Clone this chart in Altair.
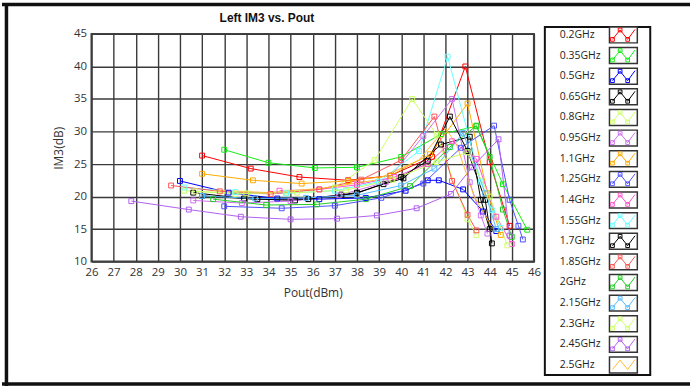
import altair as alt
import pandas as pd

# ---------------- data ----------------
series = ["0.2GHz", "0.35GHz", "0.5GHz", "0.65GHz", "0.8GHz", "0.95GHz", "1.1GHz",
          "1.25GHz", "1.4GHz", "1.55GHz", "1.7GHz", "1.85GHz", "2GHz", "2.15GHz",
          "2.3GHz", "2.45GHz", "2.5GHz"]
colors = ["#FF0000", "#11EE11", "#0000FF", "#000000", "#CCFF66", "#D070F0", "#FFAA00",
          "#5050FF", "#FF55CC", "#66FFFF", "#000000", "#FF5555", "#22CC22", "#55BBFF",
          "#CCFF66", "#B060F0", "#FFB833"]

pout_02 = [31.0, 33.2, 35.4, 37.6, 39.5, 41.4, 42.9, 44.0, 44.9]
im3_02 = [26.3, 24.3, 23.0, 22.5, 23.2, 26.1, 40.0, 25.3, 15.5]
pout_035 = [32.0, 34.0, 36.1, 38.0, 40.0, 41.8, 43.4, 44.6, 45.7]
im3_035 = [27.2, 25.2, 24.4, 24.5, 26.1, 29.6, 30.8, 21.9, 14.9]
pout_05 = [30.0, 32.2, 34.4, 36.3, 38.4, 40.2, 41.2, 41.7, 42.8, 43.7, 44.3]
im3_05 = [22.4, 20.6, 19.7, 19.6, 19.8, 20.9, 22.5, 22.5, 21.1, 17.7, 14.7]
pout_065 = [30.6, 32.9, 35.2, 37.3, 38.0, 39.2, 40.1, 41.8, 43.1, 43.6, 44.0]
im3_065 = [20.6, 19.7, 19.4, 20.3, 20.6, 21.9, 22.8, 28.0, 29.2, 19.5, 15.0]
pout_08 = [30.2, 32.5, 34.8, 37.0, 38.8, 40.5, 41.6, 43.0, 43.4]
im3_08 = [20.9, 20.4, 20.6, 21.4, 25.6, 35.0, 29.5, 16.5, 14.1]
pout_095 = [30.6, 32.8, 35.0, 37.2, 39.3, 41.0, 42.3, 43.1, 43.6, 43.9]
im3_095 = [19.4, 19.0, 19.3, 20.2, 22.2, 29.3, 35.0, 22.2, 17.1, 14.3]
pout_11 = [31.0, 33.3, 35.5, 37.6, 39.5, 41.3, 43.0, 43.9, 44.5]
im3_11 = [23.5, 22.5, 22.0, 22.4, 23.2, 26.5, 34.3, 20.5, 14.1]
pout_125 = [32.0, 34.6, 37.0, 39.1, 41.0, 42.7, 44.2, 44.9, 45.3, 45.5]
im3_125 = [18.5, 18.2, 18.6, 19.8, 22.0, 27.5, 30.9, 19.5, 15.5, 13.4]
pout_14 = [34.5, 36.3, 38.0, 39.7, 41.2, 42.3, 43.4, 44.3, 45.0]
im3_14 = [20.9, 21.1, 21.8, 23.0, 25.0, 28.5, 25.8, 16.9, 12.7]
pout_155 = [30.2, 32.5, 34.8, 37.0, 39.0, 40.8, 42.1, 43.6, 44.1, 44.5]
im3_155 = [21.4, 20.7, 20.5, 20.9, 22.3, 27.0, 41.5, 22.3, 17.9, 15.2]
pout_17 = [31.0, 33.5, 35.8, 38.0, 40.0, 41.2, 42.2, 43.0, 43.8, 44.1]
im3_17 = [20.1, 19.6, 19.6, 20.5, 23.0, 25.5, 32.3, 27.0, 19.5, 12.8]
pout_185 = [29.6, 31.8, 34.1, 36.3, 38.2, 40.0, 41.5, 42.3, 43.0, 43.4]
im3_185 = [21.7, 20.8, 20.4, 21.1, 22.6, 25.6, 32.3, 22.4, 17.2, 14.8]
pout_20 = [31.5, 33.9, 36.2, 38.4, 40.4, 42.2, 43.4, 44.0, 44.6, 45.0]
im3_20 = [19.6, 18.7, 18.8, 19.6, 21.6, 27.6, 30.9, 26.1, 18.0, 13.8]
pout_215 = [31.0, 33.4, 35.7, 38.0, 40.0, 41.5, 42.8, 43.8, 44.3]
im3_215 = [20.1, 19.7, 19.8, 20.2, 21.7, 24.3, 29.8, 20.5, 15.0]
pout_23 = [30.7, 33.0, 35.3, 37.5, 39.6, 41.6, 43.0, 44.0, 44.8]
im3_23 = [20.8, 20.5, 20.6, 21.0, 22.6, 25.3, 26.8, 20.0, 12.5]
pout_245 = [27.8, 30.4, 32.75, 35.0, 37.1, 38.9, 40.7, 42.25, 43.2, 44.4, 44.9]
im3_245 = [19.3, 18.0, 16.9, 16.5, 16.6, 17.1, 18.2, 20.4, 24.5, 28.8, 14.0]
pout_25 = [31.5, 34.0, 36.5, 38.8, 40.8, 42.0, 42.5, 43.3, 44.2]
im3_25 = [21.0, 20.6, 21.3, 22.5, 25.6, 30.5, 28.0, 20.0, 14.8]

x_ticks = list(range(26, 47))
y_ticks = [10, 15, 20, 25, 30, 35, 40, 45]

pouts = [pout_02, pout_035, pout_05, pout_065, pout_08, pout_095, pout_11, pout_125,
         pout_14, pout_155, pout_17, pout_185, pout_20, pout_215, pout_23, pout_245, pout_25]
im3s = [im3_02, im3_035, im3_05, im3_065, im3_08, im3_095, im3_11, im3_125,
        im3_14, im3_155, im3_17, im3_185, im3_20, im3_215, im3_23, im3_245, im3_25]

rows = []
for s, xs, ys in zip(series, pouts, im3s):
    for xv, yv in zip(xs, ys):
        rows.append({"series": s, "pout": xv, "im3": yv, "marker": s != "2.5GHz"})
df = pd.DataFrame(rows)

FONT = "Open Sans"
color_scale = alt.Scale(domain=series, range=colors)
xscale = alt.Scale(domain=[26, 46], nice=False, zero=False)
yscale = alt.Scale(domain=[10, 45], nice=False, zero=False)

xaxis = alt.Axis(values=x_ticks, tickSize=0, labelPadding=5, titlePadding=10,
                 labelFont=FONT, labelFontSize=11.5, labelColor="#333", labelOverlap=False,
                 titleFont=FONT, titleFontSize=12, titleFontWeight="normal",
                 titleColor="#333", grid=True, gridColor="#3a3a3a", gridWidth=1.4,
                 domain=False, labelFlush=False)
yaxis = alt.Axis(values=y_ticks, tickSize=0, labelPadding=5, titlePadding=8,
                 labelFont=FONT, labelFontSize=11.5, labelColor="#333", labelOverlap=False,
                 titleFont=FONT, titleFontSize=12, titleFontWeight="normal",
                 titleColor="#333", grid=True, gridColor="#3a3a3a", gridWidth=1.4,
                 domain=False, labelFlush=False)

xenc = alt.X("pout:Q", title="Pout(dBm)", scale=xscale, axis=xaxis)
yenc = alt.Y("im3:Q", title="IM3(dB)", scale=yscale, axis=yaxis)

base = alt.Chart(df)
lines = base.mark_line(strokeWidth=1, interpolate="linear").encode(
    x=xenc, y=yenc,
    color=alt.Color("series:N", scale=color_scale, legend=None),
    detail="series:N",
)
points = base.transform_filter("datum.marker").mark_point(
    shape="square", filled=False, size=24, strokeWidth=1, opacity=1
).encode(
    x=xenc, y=yenc,
    color=alt.Color("series:N", scale=color_scale, legend=None),
)

main = alt.layer(lines, points).properties(
    width=445, height=229,
    title=alt.TitleParams("Left IM3 vs. Pout", font="Liberation Sans", fontSize=12,
                          fontWeight="bold", color="#111", anchor="middle", dx=-46,
                          offset=3),
    view=alt.ViewBackground(stroke="#444", strokeWidth=2),
)

# ---------------- legend panel ----------------
STEP = 20.75
leg = pd.DataFrame({"series": series, "idx": list(range(len(series)))})
leg["top"] = leg["idx"] - 8 / STEP
leg["bot"] = leg["idx"] + 8 / STEP

zig_u = [68, 75.7, 83.3, 90.7]
zig_off = [4.5, -5, 4.5, -5.5]
zrows = []
for i, s in enumerate(series):
    for k, (u, o) in enumerate(zip(zig_u, zig_off)):
        zrows.append({"series": s, "u": u, "v": i + o / STEP, "k": k,
                      "marker": (k < 3) and s != "2.5GHz"})
zig = pd.DataFrame(zrows)

lx = alt.Scale(domain=[0, 106], nice=False, zero=False)
ly = alt.Scale(domain=[-1 / STEP, -1 / STEP + 343 / STEP], nice=False, zero=False, reverse=True)

frame_df = pd.DataFrame({"one": [1]})
box = alt.Chart(frame_df).mark_rect(fill="white", stroke="#111", strokeWidth=2).encode(
    x=alt.value(0), x2=alt.value(106), y=alt.value(-7), y2=alt.value(343))

sym_box = alt.Chart(leg).mark_rect(fill="white", stroke="#333", strokeWidth=1.5).encode(
    x=alt.value(65), x2=alt.value(93),
    y=alt.Y("top:Q", scale=ly, axis=None), y2="bot:Q")

labels = alt.Chart(leg).mark_text(align="left", baseline="middle", font=FONT,
                                  fontSize=10.5, color="#222").encode(
    x=alt.value(15), y=alt.Y("idx:Q", scale=ly, axis=None), text="series:N")

zig_lines = alt.Chart(zig).mark_line(strokeWidth=1).encode(
    x=alt.X("u:Q", scale=lx, axis=None), y=alt.Y("v:Q", scale=ly, axis=None),
    color=alt.Color("series:N", scale=color_scale, legend=None),
    detail="series:N", order="k:Q")
zig_pts = alt.Chart(zig).transform_filter("datum.marker").mark_point(
    shape="square", filled=False, size=14, strokeWidth=1, opacity=1).encode(
    x=alt.X("u:Q", scale=lx, axis=None), y=alt.Y("v:Q", scale=ly, axis=None),
    color=alt.Color("series:N", scale=color_scale, legend=None))

# outer picture frame
top_rule = alt.Chart(frame_df).mark_rule(color="#111", strokeWidth=3.5).encode(
    x=alt.value(-546), x2=alt.value(146), y=alt.value(-29.5))
bot_rule = alt.Chart(frame_df).mark_rule(color="#111", strokeWidth=3.5).encode(
    x=alt.value(-546), x2=alt.value(146), y=alt.value(352))
left_rule = alt.Chart(frame_df).mark_rule(color="#111", strokeWidth=3.5).encode(
    x=alt.value(-541.5), y=alt.value(-31), y2=alt.value(354))

legend_panel = alt.layer(box, sym_box, zig_lines, zig_pts, labels,
                         top_rule, bot_rule, left_rule).properties(
    width=106, height=343, view=alt.ViewBackground(stroke=None))

chart = alt.hconcat(main, legend_panel, spacing=11, bounds="flush",
                    padding={"left": 0, "top": 0, "right": 0, "bottom": 0},
                    background="white").resolve_scale(x="independent", y="independent")

chart.save("out.html", embed_options={"renderer": "svg", "actions": False})
